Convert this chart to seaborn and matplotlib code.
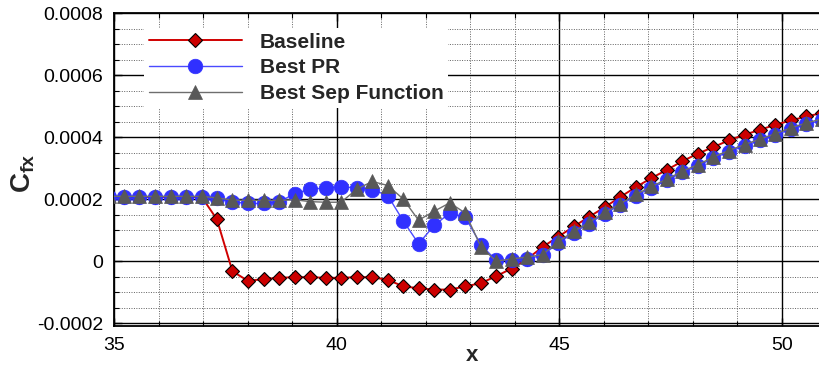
import matplotlib
matplotlib.use("Agg")
import matplotlib.pyplot as plt
import seaborn as sns
import pandas as pd
from matplotlib.ticker import FixedLocator, FixedFormatter, MultipleLocator

# ---------------- data ----------------
x_vals = [34.88, 35.23, 35.57, 35.92, 36.27, 36.62, 36.97, 37.31, 37.66, 38.01,
          38.36, 38.71, 39.06, 39.40, 39.75, 40.10, 40.45, 40.80, 41.15, 41.49,
          41.84, 42.19, 42.54, 42.89, 43.24, 43.58, 43.93, 44.28, 44.63, 44.98,
          45.33, 45.67, 46.02, 46.37, 46.72, 47.07, 47.42, 47.76, 48.11, 48.46,
          48.81, 49.16, 49.51, 49.85, 50.20, 50.55, 50.90]

baseline = [0.000207, 0.000207, 0.000207, 0.000207, 0.000207, 0.000207, 0.000207,
            0.000135, -0.000033, -0.000064, -0.000058, -0.000054, -0.000052, -0.000052,
            -0.000054, -0.000054, -0.000052, -0.000052, -0.000061, -0.000081, -0.000088,
            -0.000092, -0.000092, -0.000082, -0.000071, -0.000049, -0.000024, 0.000007,
            0.000046, 0.000079, 0.000112, 0.000143, 0.000174, 0.000207, 0.000239,
            0.000268, 0.000295, 0.000322, 0.000347, 0.000368, 0.000390, 0.000408,
            0.000424, 0.000440, 0.000454, 0.000467, 0.000478]

best_pr = [0.000208, 0.000208, 0.000208, 0.000208, 0.000208, 0.000208, 0.000208,
           0.000204, 0.000191, 0.000186, 0.000186, 0.000191, 0.000218, 0.000232,
           0.000236, 0.000239, 0.000237, 0.000231, 0.000211, 0.000131, 0.000056,
           0.000115, 0.000155, 0.000141, 0.000053, 0.000002, 0.000004, 0.000006,
           0.000020, 0.000058, 0.000092, 0.000121, 0.000153, 0.000181, 0.000211,
           0.000237, 0.000261, 0.000286, 0.000307, 0.000332, 0.000353, 0.000372,
           0.000390, 0.000407, 0.000426, 0.000442, 0.000455]

best_sep = [0.000209, 0.000209, 0.000209, 0.000209, 0.000209, 0.000209, 0.000209,
            0.000204, 0.000197, 0.000196, 0.000196, 0.000196, 0.000198, 0.000192,
            0.000190, 0.000190, 0.000232, 0.000257, 0.000244, 0.000201, 0.000132,
            0.000161, 0.000188, 0.000155, 0.000046, 0.000000, 0.000007, 0.000013,
            0.000021, 0.000064, 0.000096, 0.000125, 0.000157, 0.000185, 0.000215,
            0.000241, 0.000265, 0.000290, 0.000311, 0.000336, 0.000357, 0.000376,
            0.000394, 0.000411, 0.000430, 0.000446, 0.000459]

series_names = ["Baseline", "Best PR", "Best Sep Function"]
x_ticks = [35, 40, 45, 50]
x_ticklabels = ["35", "40", "45", "50"]
y_ticks = [-0.0002, 0.0, 0.0002, 0.0004, 0.0006, 0.0008]
y_ticklabels = ["-0.0002", "0", "0.0002", "0.0004", "0.0006", "0.0008"]

# ---------------- style ----------------
sns.set_theme(style="white")
plt.rcParams["font.family"] = ["Liberation Sans", "DejaVu Sans"]
plt.rcParams["mathtext.fontset"] = "custom"
plt.rcParams["mathtext.rm"] = "Liberation Sans"
plt.rcParams["mathtext.bf"] = "Liberation Sans:bold"
plt.rcParams["mathtext.it"] = "Liberation Sans:italic"

W, H = 820, 366
fig = plt.figure(figsize=(W / 100, H / 100), dpi=100)
ax_left, ax_right, ax_top, ax_bot = 114, 820, 13.3, 325.5
ax = fig.add_axes([ax_left / W, 1 - ax_bot / H, (ax_right - ax_left) / W, (ax_bot - ax_top) / H])

df = pd.DataFrame({
    "x": x_vals * 3,
    "y": baseline + best_pr + best_sep,
    "series": [series_names[0]] * len(x_vals) + [series_names[1]] * len(x_vals)
              + [series_names[2]] * len(x_vals),
})

styles = {
    "Baseline": dict(color="#d00000", marker="D", markersize=7.4, markerfacecolor="#cc0000",
                     markeredgecolor="black", markeredgewidth=0.8, linewidth=1.4),
    "Best PR": dict(color="#4a4aff", marker="o", markersize=10.5, markerfacecolor="#3030ff",
                    markeredgecolor="#3030ff", markeredgewidth=0.5, linewidth=1.0),
    "Best Sep Function": dict(color="#6e6e6e", marker="^", markersize=9.5, markerfacecolor="#585858",
                              markeredgecolor="#585858", markeredgewidth=0.5, linewidth=1.0),
}

for i, name in enumerate(series_names):
    sub = df[df["series"] == name]
    sns.lineplot(data=sub, x="x", y="y", ax=ax, estimator=None, sort=False,
                 label=name, zorder=3 + i, **styles[name])

ax.set_xlim(35, 35 + (ax_right - ax_left) / 44.53)
ax.set_ylim(-0.000208, 0.0008)

ax.xaxis.set_major_locator(FixedLocator(x_ticks))
ax.xaxis.set_major_formatter(FixedFormatter(x_ticklabels))
ax.xaxis.set_minor_locator(MultipleLocator(1))
ax.yaxis.set_major_locator(FixedLocator(y_ticks))
ax.yaxis.set_major_formatter(FixedFormatter(y_ticklabels))
ax.yaxis.set_minor_locator(MultipleLocator(0.00005))

ax.set_axisbelow(True)
ax.grid(which="major", color="black", linewidth=1.0, linestyle="-")
ax.grid(which="minor", color="#606060", linewidth=0.7, linestyle=(0, (1, 1.5)))

for side in ["left", "top", "bottom"]:
    ax.spines[side].set_visible(True)
    ax.spines[side].set_color("black")
    ax.spines[side].set_linewidth(1.3)
ax.spines["right"].set_visible(False)

ax.tick_params(which="both", direction="in", top=True, bottom=True, left=True, right=False,
               color="black", labelcolor="black")
ax.tick_params(which="major", length=6, width=1.0, labelsize=14, pad=8)
ax.tick_params(which="minor", length=3.5, width=0.8)

ax.set_xlabel("x", fontsize=16, fontweight="bold")
ax.xaxis.set_label_coords((472 - ax_left) / (ax_right - ax_left), -0.062)
ax.set_ylabel(r"$\mathbf{C}_{\mathbf{fx}}$", fontsize=20)
ax.yaxis.set_label_coords((37 - ax_left) / (ax_right - ax_left), 0.488)

handles, labels = ax.get_legend_handles_labels()
leg = ax.legend(handles, labels, loc="upper left",
                bbox_to_anchor=((144 - ax_left) / (ax_right - ax_left), (ax_bot - 28) / (ax_bot - ax_top)),
                frameon=True, fancybox=False, edgecolor="none", facecolor="white", framealpha=1,
                prop={"weight": "bold", "size": 15}, handlelength=4.5, handletextpad=0.85,
                labelspacing=0.33, borderpad=0.22, borderaxespad=0, numpoints=1)
leg.set_zorder(10)

fig.savefig("out.png", dpi=100)
